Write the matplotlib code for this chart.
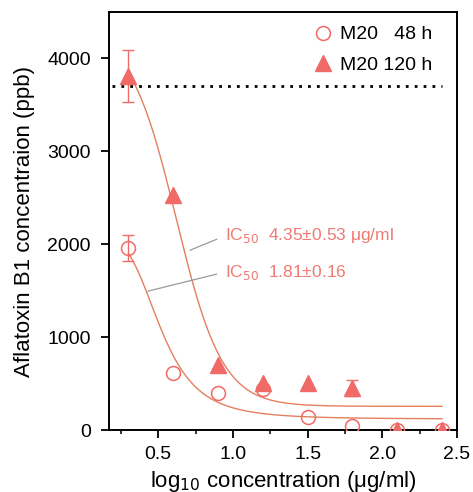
import numpy as np
import matplotlib
matplotlib.use("Agg")
import matplotlib.pyplot as plt
from matplotlib.lines import Line2D
from matplotlib.ticker import MultipleLocator

plt.rcParams['font.family'] = ['Liberation Sans', 'DejaVu Sans']

# data
log_conc = [0.3, 0.6, 0.9, 1.2, 1.5, 1.8, 2.1, 2.4]
afb1_48h = [1964, 616, 398, 440, 143, 46, 0, 0]
err_48h = [140, 0, 0, 0, 0, 0, 0, 0]
afb1_120h = [3806, 2527, 699, 505, 510, 452, 0, 0]
err_120h = [280, 0, 0, 0, 0, 90, 0, 0]
control_level = 3700

# fitted curve parameters
fit_48h = dict(top=2100, bottom=118, x0=0.513, p=4.1)
fit_120h = dict(top=4300, bottom=255, x0=0.62, hill=2.8)

point_color = '#F06A68'
curve_color = '#E3805F'
text_color = '#EE7A72'


def logistic(x, top, bottom, x0, p):
    return bottom + (top - bottom) / (1 + (x / x0) ** p)


def dose_resp(x, top, bottom, x0, hill):
    return bottom + (top - bottom) / (1 + 10 ** (hill * (x - x0)))


fig = plt.figure(figsize=(4.73, 4.92), dpi=100)
ax = fig.add_axes([0.2304, 0.126, 0.7356, 0.8496])

xs = np.linspace(0.3, 2.4, 300)
ax.plot(xs, logistic(xs, **fit_48h), color=curve_color, lw=1.0)
ax.plot(xs, dose_resp(xs, **fit_120h), color=curve_color, lw=1.0)

ax.hlines(control_level, 0.19, 2.4, colors='black', lw=2,
          linestyles=(0, (1, 2.2)))

# markers
ax.plot(log_conc, afb1_120h, ls='none', marker='^', ms=11.5,
        mfc=point_color, mec=point_color, zorder=3)
ax.plot(log_conc, afb1_48h, ls='none', marker='o', ms=10, mfc='none',
        mec=point_color, mew=1.1, zorder=4)

# error bars only where there is one
for ys, es in [(afb1_48h, err_48h), (afb1_120h, err_120h)]:
    idx = [i for i, e in enumerate(es) if e > 0]
    ax.errorbar([log_conc[i] for i in idx], [ys[i] for i in idx],
                yerr=[es[i] for i in idx], fmt='none', ecolor=point_color,
                elinewidth=1, capsize=4, zorder=2)

arrow = dict(arrowstyle='-', color='#9a9a9a', lw=0.9, relpos=(0, 0.5),
             shrinkA=4, shrinkB=0)
ax.annotate('IC$_{50}$  4.35±0.53 μg/ml', xy=(0.712, 1935), xytext=(0.946, 2090),
            color=text_color, fontsize=12.5, va='center', arrowprops=arrow)
ax.annotate('IC$_{50}$  1.81±0.16', xy=(0.431, 1495), xytext=(0.946, 1700),
            color=text_color, fontsize=12.5, va='center', arrowprops=arrow)

ax.set_xlim(0.17, 2.5)
ax.set_ylim(0, 4500)
ax.xaxis.set_minor_locator(MultipleLocator(0.25))
ax.yaxis.set_major_locator(MultipleLocator(1000))
ax.set_xticks([0.5, 1.0, 1.5, 2.0, 2.5])
ax.set_xticklabels(['0.5', '1.0', '1.5', '2.0', '2.5'])
ax.tick_params(axis='both', which='major', direction='out', length=5.5,
               width=1.3, labelsize=14)
ax.tick_params(axis='x', which='major', pad=6)
ax.tick_params(axis='y', which='major', pad=7.5)
ax.tick_params(axis='both', which='minor', direction='out', length=3,
               width=1.1)
for s in ax.spines.values():
    s.set_linewidth(1.4)

ax.set_xlabel('log$_{10}$ concentration (μg/ml)', fontsize=16, labelpad=4)
ax.set_ylabel('Aflatoxin B1 concentraion (ppb)', fontsize=16, labelpad=9)

handles = [
    Line2D([], [], ls='none', marker='o', ms=10, mfc='none',
           mec=point_color, mew=1.1),
    Line2D([], [], ls='none', marker='^', ms=11.5, mfc=point_color,
           mec=point_color),
]
ax.legend(handles, ['M20   48 h', 'M20 120 h'], loc='upper right',
          bbox_to_anchor=(0.93, 0.967), frameon=False, fontsize=14,
          handlelength=1.0, handletextpad=0.4, borderaxespad=0,
          borderpad=0, labelspacing=0.65)

fig.savefig('out.png', dpi=100)
